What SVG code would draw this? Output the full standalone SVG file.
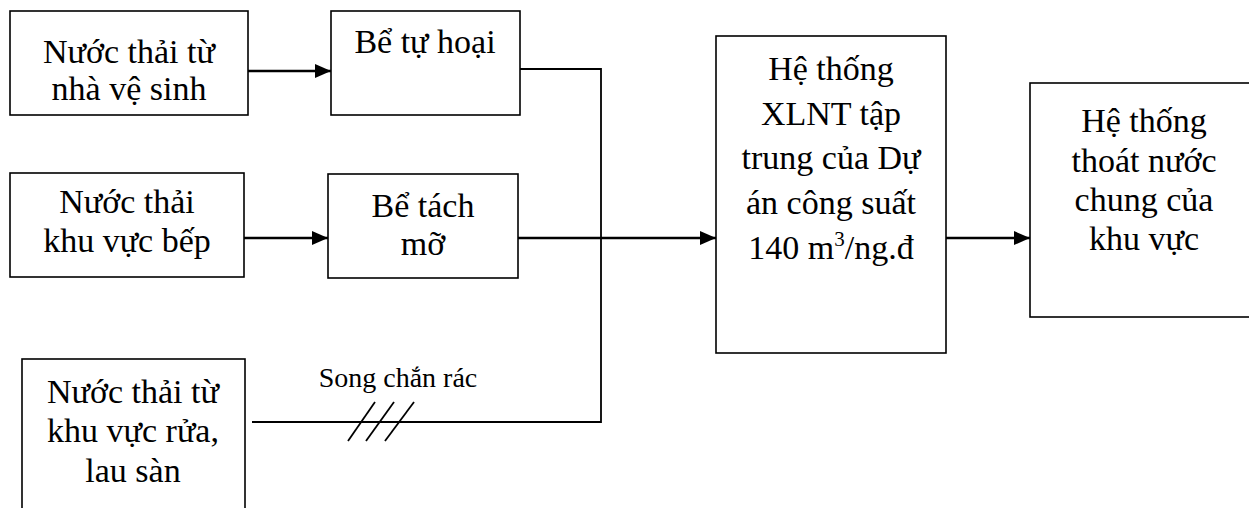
<svg xmlns="http://www.w3.org/2000/svg" width="1249" height="508" viewBox="0 0 1249 508">
<defs>
<style>
.box{fill:#fff;stroke:#000;stroke-width:1.6}
.ln{fill:none;stroke:#000;stroke-width:1.8}
.ar{fill:none;stroke:#000;stroke-width:2.5}
</style>
<marker id="ah" markerWidth="16" markerHeight="14" refX="16" refY="7" orient="auto" markerUnits="userSpaceOnUse">
<path d="M0,0 L16,7 L0,14 Z" fill="#000"/>
</marker>
</defs>
<rect width="1249" height="508" fill="#fff"/>
<g id="n1"><rect class="box" x="10" y="11" width="238" height="104"/>
<text x="129" y="63" font-family="Liberation Serif, serif" font-size="34" text-anchor="middle">Nước thải từ</text>
<text x="129" y="100" font-family="Liberation Serif, serif" font-size="34" text-anchor="middle">nhà vệ sinh</text></g>
<g id="n2"><rect class="box" x="331" y="11" width="189" height="104"/>
<text x="425" y="53" font-family="Liberation Serif, serif" font-size="34" text-anchor="middle">Bể tự hoại</text></g>
<g id="n3"><rect class="box" x="10" y="173" width="234" height="104"/>
<text x="127" y="213" font-family="Liberation Serif, serif" font-size="34" text-anchor="middle">Nước thải</text>
<text x="127" y="252" font-family="Liberation Serif, serif" font-size="34" text-anchor="middle">khu vực bếp</text></g>
<g id="n4"><rect class="box" x="328" y="174" width="190" height="104"/>
<text x="423" y="217" font-family="Liberation Serif, serif" font-size="34" text-anchor="middle">Bể tách</text>
<text x="423" y="255" font-family="Liberation Serif, serif" font-size="34" text-anchor="middle">mỡ</text></g>
<g id="n5"><rect class="box" x="22" y="359" width="223" height="180"/>
<text x="133" y="403" font-family="Liberation Serif, serif" font-size="34" text-anchor="middle">Nước thải từ</text>
<text x="133" y="442" font-family="Liberation Serif, serif" font-size="34" text-anchor="middle">khu vực rửa,</text>
<text x="133" y="482" font-family="Liberation Serif, serif" font-size="34" text-anchor="middle">lau sàn</text></g>
<g id="n6"><rect class="box" x="716" y="36" width="230" height="317"/>
<text x="831" y="80" font-family="Liberation Serif, serif" font-size="34" text-anchor="middle">Hệ thống</text>
<text x="831" y="125" font-family="Liberation Serif, serif" font-size="34" text-anchor="middle">XLNT tập</text>
<text x="831" y="169" font-family="Liberation Serif, serif" font-size="34" text-anchor="middle">trung của Dự</text>
<text x="831" y="214" font-family="Liberation Serif, serif" font-size="34" text-anchor="middle">án công suất</text>
<text x="831" y="259" font-family="Liberation Serif, serif" font-size="34" text-anchor="middle">140 m<tspan font-size="21" dy="-13">3</tspan><tspan dy="13">/ng.đ</tspan></text></g>
<g id="n7"><rect class="box" x="1030" y="83" width="230" height="234"/>
<text x="1144" y="132" font-family="Liberation Serif, serif" font-size="34" text-anchor="middle">Hệ thống</text>
<text x="1144" y="172" font-family="Liberation Serif, serif" font-size="34" text-anchor="middle">thoát nước</text>
<text x="1144" y="211" font-family="Liberation Serif, serif" font-size="34" text-anchor="middle">chung của</text>
<text x="1144" y="250" font-family="Liberation Serif, serif" font-size="34" text-anchor="middle">khu vực</text></g>
<g id="connectors">
<line class="ar" x1="248" y1="71" x2="331" y2="71" marker-end="url(#ah)"/>
<line class="ar" x1="244" y1="238" x2="328" y2="238" marker-end="url(#ah)"/>
<line class="ar" x1="518" y1="238" x2="716" y2="238" marker-end="url(#ah)"/>
<line class="ar" x1="946" y1="238" x2="1030" y2="238" marker-end="url(#ah)"/>
<polyline class="ln" points="520,69 601,69 601,422 252,422"/>
<line class="ln" x1="348" y1="441" x2="375" y2="402"/>
<line class="ln" x1="366" y1="441" x2="394" y2="402"/>
<line class="ln" x1="385" y1="441" x2="414" y2="402"/>
<text x="398" y="387" font-family="Liberation Serif, serif" font-size="28" text-anchor="middle">Song chắn rác</text>
</g>
</svg>
